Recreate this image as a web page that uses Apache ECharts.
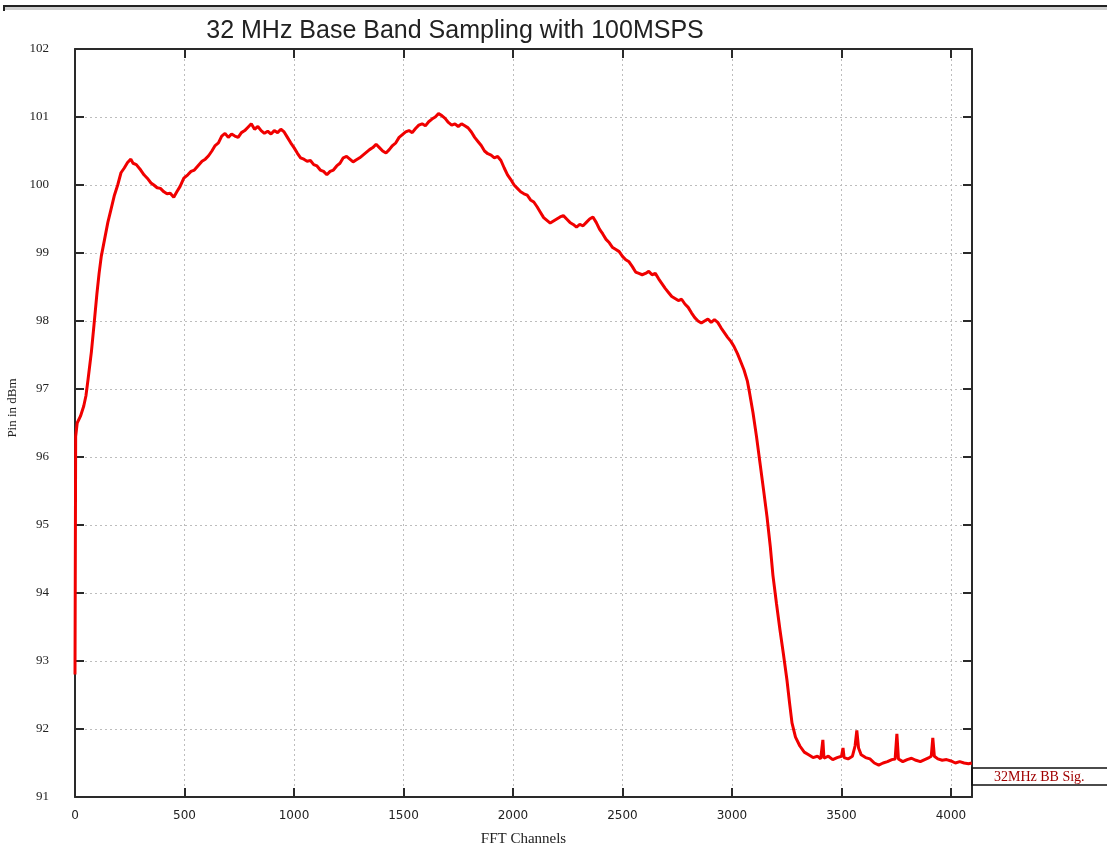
<!DOCTYPE html>
<html>
<head>
<meta charset="utf-8">
<script src="https://cdn.jsdelivr.net/npm/echarts@6/dist/echarts.min.js"></script>
<style>
html,body{margin:0;padding:0;background:#fff;}
#chart{width:1107px;height:851px;}
</style>
</head>
<body>
<div id="chart"></div>
<script>
const titleText = "32 MHz Base Band Sampling with 100MSPS";
const seriesName = "32MHz BB Sig.";
const xTickLabels = [0, 500, 1000, 1500, 2000, 2500, 3000, 3500, 4000];
const yTickLabels = [91, 92, 93, 94, 95, 96, 97, 98, 99, 100, 101, 102];

const channels = [
0,3,10,25,40,50,60,75,87,100,110,120,135,150,165,180,195,210,225,240,255,265,280,300,315,330,347,360,375,390,406,420,435,451,465,480,497,515,530,545,561,580,595,610,625,640,655,670,685,700,715,730,745,760,775,790,805,820,835,850,865,880,895,910,925,940,955,970,985,1000,1015,1030,1045,1060,1075,1090,1105,1120,1135,1150,1165,1180,1195,1210,1225,1240,1255,1270,1285,1300,1315,1330,1345,1360,1375,1390,1405,1420,1435,1450,1465,1480,1495,1510,1525,1540,1555,1570,1585,1600,1615,1630,1645,1660,1675,1690,1705,1720,1735,1750,1765,1780,1795,1810,1825,1840,1855,1870,1885,1900,1915,1930,1945,1960,1975,1990,2005,2020,2035,2050,2065,2080,2095,2110,2125,2140,2155,2170,2185,2200,2215,2230,2245,2260,2275,2290,2305,2320,2335,2350,2365,2380,2395,2410,2425,2440,2455,2470,2485,2500,2515,2530,2545,2560,2575,2590,2605,2620,2635,2650,2665,2680,2695,2710,2725,2740,2755,2770,2785,2800,2815,2830,2845,2860,2875,2890,2905,2920,2935,2950,2965,2980,2995,3010,3025,3040,3055,3070,3080,3096,3112,3128,3144,3160,3175,3187,3203,3219,3235,3251,3263,3274,3290,3310,3330,3350,3370,3390,3405,3415,3420,3440,3460,3480,3500,3507,3512,3530,3550,3562,3570,3578,3590,3610,3630,3650,3670,3690,3710,3730,3745,3753,3760,3780,3800,3820,3840,3860,3880,3900,3910,3917,3924,3940,3960,3980,4000,4020,4040,4060,4080,4095
];
const pinDbm = [
92.8,96.3,96.5,96.6,96.75,96.9,97.15,97.55,97.95,98.4,98.7,98.95,99.2,99.45,99.65,99.85,100.0,100.18,100.25,100.33,100.38,100.32,100.3,100.22,100.15,100.1,100.03,100.0,99.96,99.95,99.9,99.87,99.88,99.82,99.9,99.98,100.1,100.15,100.2,100.22,100.28,100.35,100.38,100.43,100.5,100.58,100.62,100.72,100.76,100.7,100.75,100.72,100.7,100.77,100.8,100.85,100.9,100.82,100.86,100.8,100.76,100.79,100.75,100.8,100.77,100.82,100.78,100.7,100.62,100.55,100.47,100.4,100.38,100.35,100.36,100.3,100.28,100.22,100.2,100.15,100.2,100.22,100.28,100.32,100.4,100.42,100.38,100.34,100.37,100.4,100.44,100.48,100.52,100.55,100.6,100.55,100.5,100.47,100.52,100.58,100.62,100.7,100.74,100.78,100.8,100.77,100.83,100.88,100.9,100.87,100.93,100.97,101.0,101.05,101.02,100.98,100.92,100.88,100.9,100.86,100.9,100.87,100.84,100.78,100.7,100.64,100.58,100.5,100.46,100.44,100.4,100.42,100.36,100.25,100.15,100.08,100.0,99.95,99.9,99.87,99.85,99.78,99.75,99.68,99.6,99.52,99.48,99.44,99.47,99.5,99.53,99.55,99.5,99.45,99.42,99.38,99.42,99.4,99.45,99.5,99.53,99.45,99.35,99.28,99.2,99.15,99.08,99.05,99.02,98.95,98.9,98.87,98.8,98.72,98.7,98.68,98.7,98.73,98.68,98.7,98.62,98.55,98.48,98.42,98.36,98.33,98.3,98.32,98.25,98.2,98.12,98.05,98.0,97.97,98.0,98.03,97.98,98.02,97.98,97.9,97.83,97.76,97.7,97.62,97.52,97.4,97.28,97.12,96.95,96.65,96.3,95.91,95.52,95.12,94.68,94.26,93.85,93.46,93.1,92.72,92.38,92.09,91.88,91.75,91.66,91.62,91.58,91.6,91.56,91.84,91.57,91.6,91.55,91.58,91.6,91.72,91.58,91.56,91.6,91.75,91.98,91.72,91.62,91.58,91.56,91.5,91.47,91.5,91.52,91.55,91.56,91.93,91.56,91.52,91.55,91.57,91.54,91.52,91.55,91.58,91.6,91.87,91.6,91.56,91.54,91.55,91.53,91.5,91.52,91.5,91.49,91.5
];

const chart = echarts.init(document.getElementById('chart'), null, {renderer: 'canvas'});
const lineData = channels.map((c, i) => [c, pinDbm[i]]);

const gridLine = {show: true, lineStyle: {color: '#bdbdbd', type: [2, 3], width: 1}};
const frameLine = {show: true, onZero: false, lineStyle: {color: '#2a2a2a', width: 2}};
const innerTick = {show: true, inside: true, length: 9, lineStyle: {color: '#2a2a2a', width: 2}};

chart.setOption({
  backgroundColor: '#fff',
  animation: false,
  title: {
    text: titleText,
    left: 450, top: 14, textAlign: 'center',
    textStyle: {fontFamily: 'Liberation Sans', fontSize: 25, fontWeight: 'normal', color: '#222'}
  },
  legend: {
    show: true,
    data: [{name: seriesName, icon: 'none'}],
    left: 972, top: 768,
    itemWidth: 0, itemHeight: 0, itemGap: 0,
    padding: [2, 30, 1, 17],
    borderColor: '#111', borderWidth: 1.5,
    textStyle: {fontFamily: 'Liberation Serif', fontSize: 14, color: '#a00000'}
  },
  grid: {left: 75, right: 135, top: 49, bottom: 54, containLabel: false, outerBoundsMode: 'none'},
  xAxis: [{
    type: 'value', min: 0, max: 4096, interval: 500,
    name: 'FFT Channels', nameLocation: 'middle', nameGap: 35,
    nameTextStyle: {fontFamily: 'Liberation Serif', fontSize: 15, color: '#222'},
    axisLine: frameLine, axisTick: innerTick,
    axisLabel: {margin: 13, fontFamily: 'DejaVu Sans', fontSize: 12, color: '#222', showMaxLabel: false,
      formatter: v => xTickLabels.includes(v) ? String(v) : ''},
    splitLine: gridLine
  }, {
    type: 'value', min: 0, max: 4096, interval: 500, position: 'top',
    axisLine: frameLine, axisTick: innerTick, axisLabel: {show: false}, splitLine: {show: false}
  }],
  yAxis: [{
    type: 'value', min: 91, max: 102, interval: 1,
    name: 'Pin in dBm', nameLocation: 'middle', nameGap: 52,
    nameTextStyle: {fontFamily: 'Liberation Serif', fontSize: 13, color: '#222', padding: [0, 0, 0, 30]},
    axisLine: frameLine, axisTick: innerTick,
    axisLabel: {margin: 26, fontFamily: 'Liberation Serif', fontSize: 13, color: '#222',
      formatter: v => yTickLabels.includes(v) ? String(v) : ''},
    splitLine: gridLine
  }, {
    type: 'value', min: 91, max: 102, interval: 1, position: 'right',
    axisLine: frameLine, axisTick: innerTick, axisLabel: {show: false}, splitLine: {show: false}
  }],
  series: [{
    name: seriesName, type: 'line', data: lineData,
    showSymbol: false, symbol: 'none', sampling: 'none',
    lineStyle: {color: '#f00000', width: 3},
    itemStyle: {color: '#f00000'}
  }],
  graphic: [
    {type: 'rect', shape: {x: 3, y: 5, width: 1104, height: 2}, style: {fill: '#222'}},
    {type: 'rect', shape: {x: 3, y: 7, width: 1104, height: 3}, style: {fill: '#cfcfcf'}},
    {type: 'rect', shape: {x: 3, y: 5, width: 2, height: 6}, style: {fill: '#222'}}
  ]
});
</script>
</body>
</html>
